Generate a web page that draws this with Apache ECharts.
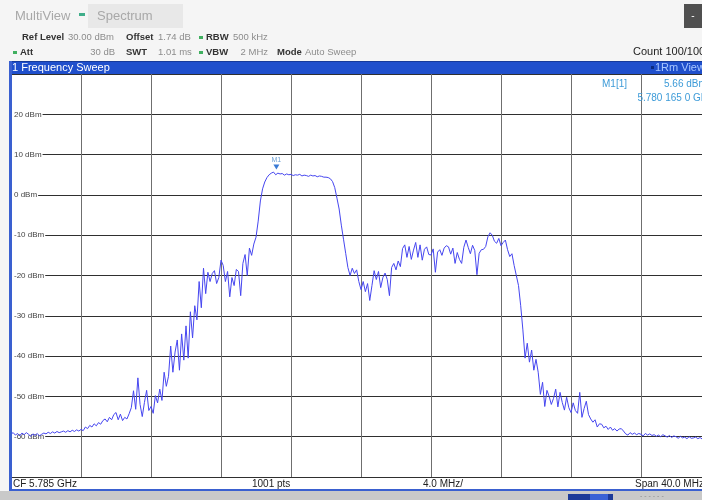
<!DOCTYPE html>
<html>
<head>
<meta charset="utf-8">
<script src="https://cdn.jsdelivr.net/npm/echarts@6/dist/echarts.min.js"></script>
<style>
html,body{margin:0;padding:0;background:#f5f5f5;overflow:hidden;width:702px;height:500px;}
#chart{width:712px;height:500px;}
</style>
</head>
<body>
<div id="chart"></div>
<script>
// ---- Instrument settings ----
const centerFreqGHz = 5.785;
const spanMHz = 40;
const sweepStepMHz = 0.125;          // trace read at this spacing
const refLevelDbm = 30;
const bottomLevelDbm = -70;
const dbPerDiv = 10;
const mhzPerDiv = 4;

// ---- Trace levels (dBm), left to right (-20 MHz .. +20 MHz) ----
const levelsDbm = [
  -59.3,-59.0,-59.6,-59.2,-59.8,-59.1,-59.5,-59.0,
  -59.4,-59.9,-59.3,-59.7,-59.2,-59.8,-59.4,-59.1,
  -59.3,-58.9,-59.2,-58.8,-59.1,-58.7,-59.0,-58.8,
  -58.6,-58.9,-58.5,-58.8,-58.4,-58.7,-58.3,-58.6,
  -58.2,-58.5,-57.6,-58.0,-57.2,-57.6,-56.8,-57.3,
  -56.5,-56.9,-56.0,-55.6,-56.3,-55.2,-55.8,-54.5,
  -54.0,-55.8,-54.4,-56.0,-55.2,-55.6,-54.3,-52.8,
  -48.6,-53.2,-45.4,-52.0,-55.0,-51.5,-48.5,-53.5,
  -52.5,-54.2,-49.8,-51.6,-48.2,-51.0,-44.0,-47.5,
  -45.0,-37.5,-44.0,-39.0,-36.0,-43.5,-34.5,-41.0,
  -32.5,-40.5,-29.0,-35.5,-27.5,-31.0,-21.5,-28.0,
  -18.2,-24.5,-19.2,-21.5,-19.5,-18.8,-22.0,-20.5,
  -16.2,-17.5,-21.5,-19.0,-25.3,-20.5,-22.5,-18.5,
  -19.0,-25.0,-17.0,-14.8,-20.0,-13.2,-15.0,-12.2,
  -10.5,-6.5,-1.5,1.5,3.2,4.3,5.0,5.4,
  5.66,5.0,5.4,5.2,5.3,4.9,5.2,5.0,
  5.1,4.8,5.0,4.9,5.1,4.7,4.9,4.8,
  4.6,4.9,4.7,4.8,4.5,4.7,4.6,4.4,
  4.4,4.3,4.0,3.3,1.8,-0.8,-3.5,-7.5,
  -11.0,-14.5,-18.0,-20.0,-18.2,-19.5,-18.6,-21.5,
  -23.5,-21.5,-24.0,-22.0,-26.2,-22.5,-18.8,-21.0,
  -19.0,-23.0,-20.5,-19.4,-21.0,-25.0,-18.0,-17.0,
  -18.6,-16.4,-17.8,-13.3,-12.4,-15.5,-12.8,-16.0,
  -13.7,-11.8,-15.5,-12.4,-16.2,-13.5,-12.9,-14.8,
  -14.9,-13.4,-19.2,-14.2,-13.6,-15.0,-13.2,-12.6,
  -12.9,-14.7,-13.2,-17.0,-14.3,-16.0,-17.0,-13.0,
  -11.2,-13.0,-14.6,-12.5,-13.8,-19.8,-14.5,-13.6,
  -13.5,-12.8,-10.4,-9.4,-10.0,-11.5,-12.0,-10.8,
  -12.6,-11.8,-11.2,-13.6,-15.3,-14.6,-17.5,-20.0,
  -22.5,-27.5,-33.5,-40.5,-36.8,-41.5,-38.5,-43.5,
  -40.8,-44.0,-49.5,-46.5,-52.5,-48.5,-50.0,-52.0,
  -50.5,-48.2,-52.6,-49.0,-51.5,-53.4,-50.2,-52.8,
  -54.0,-51.6,-53.5,-54.2,-49.0,-55.2,-53.0,-51.2,
  -54.5,-55.6,-56.4,-55.8,-57.6,-56.8,-56.9,-57.8,
  -57.4,-58.2,-57.6,-58.4,-58.0,-58.6,-58.1,-58.0,
  -58.6,-59.3,-59.6,-59.0,-59.4,-59.1,-59.5,-59.2,
  -59.4,-59.8,-59.2,-59.6,-59.3,-59.7,-59.5,-59.9,
  -59.6,-60.0,-59.5,-59.8,-60.1,-59.7,-60.2,-59.8,
  -60.0,-60.4,-59.9,-60.3,-60.1,-60.5,-60.0,-60.4,
  -60.3,-60.1,-60.5,-60.2,-60.6,-60.3,-60.4,-60.2,-60.5
];

// ---- Marker ----
const markerName = 'M1';
const markerFreqGHz = 5.7801650;
const markerLevelDbm = 5.66;

// ---- Texts ----
const headerRow1 = [['Ref Level', true], ['30.00 dBm', false], ['Offset', true], ['1.74 dB', false], ['RBW', true], ['500 kHz', false]];
const headerRow2 = [['Att', true], ['30 dB', false], ['SWT', true], ['1.01 ms', false], ['VBW', true], ['2 MHz', false], ['Mode', true], ['Auto Sweep', false]];
const footerLabels = ['CF 5.785 GHz', '1001 pts', '4.0 MHz/', 'Span 40.0 MHz'];

// ---- Build data on the instrument sweep grid ----
const halfSpan = spanMHz / 2;
const traceData = levelsDbm.map((v, i) => [-halfSpan + i * sweepStepMHz, v]);
const markerOffsetMHz = (markerFreqGHz - centerFreqGHz) * 1000;

const FONT = '"Liberation Sans", Arial, sans-serif';
const LBL = '#333333', VAL = '#8c8c8c';
const W = 712;

function txt(x, y, text, opts) {
  opts = opts || {};
  return {
    type: 'text', x: x, y: y, z: 100,
    style: {
      text: text,
      fill: opts.fill || LBL,
      font: (opts.bold ? 'bold ' : '') + (opts.size || 10) + 'px ' + FONT,
      textAlign: opts.align || 'left',
      textVerticalAlign: 'middle'
    }
  };
}
function rect(x, y, w, h, fill, z) {
  return { type: 'rect', z: z || 90, shape: { x: x, y: y, width: w, height: h }, style: { fill: fill } };
}

const row1X = [22, 68, 126, 158, 206, 233];
const row2X = [20, 115, 126, 158, 206, 268, 277, 305];
const row2Align = ['left', 'right', 'left', 'left', 'left', 'right', 'left', 'left'];

const graphics = [
  rect(0, 0, W, 61, '#f5f5f5', 80),
  rect(88, 4, 95, 24, '#e8e8e8', 81),
  txt(15, 16, 'MultiView', { size: 13, fill: '#a8a8a8' }),
  rect(79, 13, 6, 3, '#3fae8a', 82),
  txt(97, 16, 'Spectrum', { size: 13, fill: '#a8a8a8' }),
  rect(684, 4, 18, 24, '#505050', 82),
  txt(693, 16, '-', { size: 10, fill: '#ffffff', align: 'center' }),
  rect(199, 36, 4, 3, '#40b060', 82),
  rect(13, 51, 4, 3, '#40b060', 82),
  rect(199, 51, 4, 3, '#40b060', 82),
  txt(633, 52, 'Count 100/100', { size: 11, fill: '#222' }),
  // title bar
  rect(10, 61, W, 13, '#1f4fcc', 85),
  rect(10, 61, W, 1, '#163a9a', 86),
  txt(12, 68, '1 Frequency Sweep', { size: 11, fill: '#ffffff' }),
  rect(651, 66, 3, 3, '#0b2a80', 87),
  txt(655, 68, '1Rm View', { size: 11, fill: '#a9c7ff' }),
  // marker readout
  txt(602, 84, 'M1[1]', { size: 10, fill: '#3d9bd8' }),
  txt(664, 84, markerLevelDbm.toFixed(2) + ' dBm', { size: 10, fill: '#3d9bd8' }),
  txt(713, 98, '5.780 165 0 GHz', { size: 10, fill: '#3d9bd8', align: 'right' }),
  // footer
  rect(10, 478, W, 12, '#ffffff', 85),
  txt(13, 484, footerLabels[0], { size: 10, fill: '#222' }),
  txt(252, 484, footerLabels[1], { size: 10, fill: '#222' }),
  txt(423, 484, footerLabels[2], { size: 10, fill: '#222' }),
  txt(635, 484, footerLabels[3], { size: 10, fill: '#222' }),
  rect(10, 489, W, 2, '#3a60d0', 88),
  rect(0, 491, W, 9, '#c9c9c9', 88),
  rect(568, 494, 45, 6, '#1c3a99', 89),
  rect(590, 494, 18, 6, '#3a62d6', 89),
  txt(640, 496, '- - - - - -', { size: 7, fill: '#8a8a8a' }),
  // left frame
  rect(9, 61, 3, 430, '#3a60d0', 88)
];
headerRow1.forEach((p, i) => graphics.push(txt(row1X[i], 37, p[0], { bold: p[1], size: 9.5, fill: p[1] ? LBL : VAL })));
headerRow2.forEach((p, i) => graphics.push(txt(row2X[i], 52, p[0], { bold: p[1], size: 9.5, fill: p[1] ? LBL : VAL, align: row2Align[i] })));

const chart = echarts.init(document.getElementById('chart'), null, { renderer: 'canvas', width: W, height: 500 });
chart.setOption({
  animation: false,
  backgroundColor: '#f5f5f5',
  grid: { left: 11, top: 74, width: 700, height: 403, show: true, backgroundColor: '#ffffff', borderWidth: 0 },
  xAxis: {
    type: 'value', min: -halfSpan, max: halfSpan, interval: mhzPerDiv,
    axisLabel: { show: false }, axisTick: { show: false }, axisLine: { show: false },
    splitLine: { show: true, lineStyle: { color: '#6f6f6f', width: 1 } }
  },
  yAxis: {
    type: 'value', min: bottomLevelDbm, max: refLevelDbm, interval: dbPerDiv,
    axisTick: { show: false }, axisLine: { show: false },
    splitLine: { show: true, lineStyle: { color: '#2f2f2f', width: 1 } },
    axisLabel: {
      inside: true, margin: 0, fontSize: 8, color: '#444444', fontFamily: FONT,
      backgroundColor: '#ffffff', padding: [0, 1, 0, 3],
      formatter: v => (v === refLevelDbm || v === bottomLevelDbm) ? '' : v + ' dBm'
    }
  },
  series: [{
    type: 'line', data: traceData, showSymbol: false, symbol: 'none', z: 3,
    lineStyle: { color: '#4646f0', width: 1 }, clip: true,
    markPoint: {
      symbol: 'triangle', symbolRotate: 180, symbolSize: [6, 5], symbolOffset: [0, -5],
      itemStyle: { color: '#3a7bd5' },
      label: { show: true, position: 'top', distance: 1, formatter: markerName, fontSize: 7, color: '#6b9fd4', fontFamily: FONT },
      data: [{ coord: [markerOffsetMHz, markerLevelDbm] }]
    }
  }],
  graphic: graphics
});
</script>
</body>
</html>
